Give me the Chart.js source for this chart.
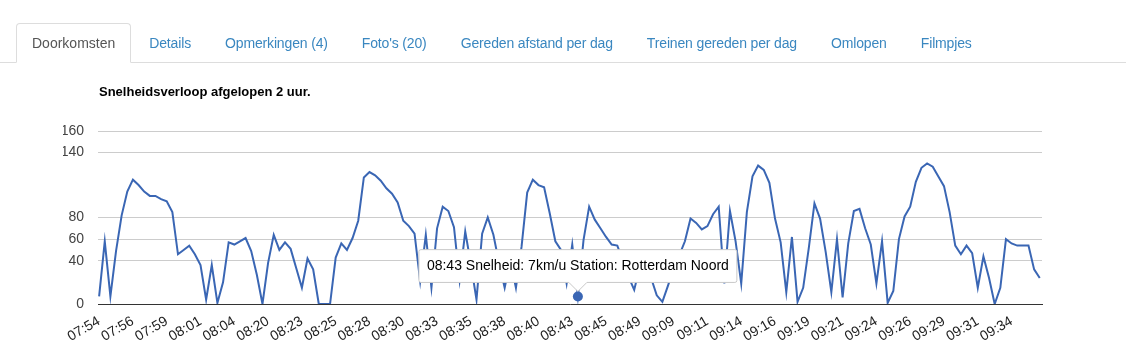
<!DOCTYPE html>
<html>
<head>
<meta charset="utf-8">
<title>Doorkomsten</title>
<script src="https://cdn.jsdelivr.net/npm/chart.js@4/dist/chart.umd.min.js"></script>
<style>
body{margin:0;background:#fff;font-family:Arial,"Liberation Sans",sans-serif;}
.wrap{position:relative;width:1126px;height:350px;overflow:hidden;}
canvas{position:absolute;left:0;top:0;}
.tabs{position:absolute;left:0;top:23px;width:1126px;margin:0;padding:0 0 0 16px;list-style:none;display:flex;border-bottom:1px solid #ddd;box-sizing:border-box;}
.tabs li{margin:0 2px -1px 0;}
.tabs a{display:block;padding:9px 15px;line-height:20px;font-size:14px;letter-spacing:-0.15px;color:#3a87c0;text-decoration:none;border:1px solid transparent;border-radius:4px 4px 0 0;}
.tabs li.active a{color:#555;background:#fff;border-color:#ddd #ddd transparent;letter-spacing:0;}
.titel{position:absolute;left:99px;top:84px;font:bold 13px Arial,"Liberation Sans",sans-serif;color:#000;}
</style>
</head>
<body>
<div class="wrap">
<canvas id="grafiek" width="1126" height="350"></canvas>
<ul class="tabs">
<li class="active"><a href="#">Doorkomsten</a></li>
<li><a href="#">Details</a></li>
<li><a href="#">Opmerkingen (4)</a></li>
<li><a href="#">Foto's (20)</a></li>
<li><a href="#">Gereden afstand per dag</a></li>
<li><a href="#">Treinen gereden per dag</a></li>
<li><a href="#">Omlopen</a></li>
<li><a href="#">Filmpjes</a></li>
</ul>
<div class="titel">Snelheidsverloop afgelopen 2 uur.</div>
</div>

<script>

/* tijden onder de x-as, om de 6 metingen */

const tijden=["07:54","07:56","07:59","08:01","08:04","08:20","08:23","08:25","08:28","08:30",
"08:33","08:35","08:38","08:40","08:43","08:45","08:49","09:09","09:11","09:14",
"09:16","09:19","09:21","09:24","09:26","09:29","09:31","09:34"]

const stap=6

/* snelheid in km/u per meting */

const snelheid=[
7,58,7,49,82,104,115,110,104,100,
100,97,95,85,46,50,54,46,36,4,
36,1,20,57,55,58,61,49,27,0,
38,64,50,57,51,33,15,42,32,0,
0,0,43,56,50,61,77,117,122,119,
114,107,102,94,77,72,65,21,64,15,
70,90,86,71,22,67,37,4,65,80,
64,38,15,40,15,53,103,115,110,108,
84,58,50,19,55,7,59,90,78,70,
62,55,54,40,25,13,35,40,24,8,
2,17,33,45,58,79,75,69,72,83,
90,19,86,58,19,85,118,128,124,112,
79,57,11,62,2,15,52,93,79,48,
11,60,6,56,86,88,70,55,19,58,
1,12,60,81,90,113,126,130,127,118,
109,85,54,46,54,47,15,44,24,0,
15,60,56,54,54,54,32,24
]

const yTicks=[0,40,60,80,140,160]

/* meting met tooltip */

const tipIndex=85
const tipTijd="08:43"
const tipStation="Rotterdam Noord"

const blauw="#3a66b4"

const punten=snelheid.map((v,i)=>({x:i,y:v}))

const ctx=document.getElementById("grafiek")

const chart=new Chart(ctx,{

type:"line",

data:{
datasets:[{
data:punten,
borderColor:blauw,
borderWidth:2,
pointRadius:0,
pointHoverRadius:5,
pointHoverBackgroundColor:blauw,
pointHoverBorderWidth:0,
tension:0
}]
},

options:{

responsive:false,
animation:false,

layout:{padding:{left:63,right:84,top:131,bottom:0}},

plugins:{
legend:{display:false},
tooltip:{
backgroundColor:"#fff",
borderColor:"#c8c8c8",
borderWidth:1,
cornerRadius:2,
displayColors:false,
bodyColor:"#000",
bodyFont:{family:"Arial",size:14},
padding:8,
caretSize:9,
caretPadding:5,
yAlign:"bottom",
xAlign:"center",
callbacks:{
title:()=>"",
label:(c)=>tipTijd+" Snelheid: "+c.parsed.y+"km/u Station: "+tipStation
}
}
},

scales:{
x:{
type:"linear",
min:-0.2,
max:snelheid.length-1+0.4,
afterBuildTicks:(s)=>{s.ticks=tijden.map((t,i)=>({value:i*stap}))},
afterFit:(s)=>{s.height=46},
grid:{display:false,drawTicks:false},
border:{color:"#333",width:1},
ticks:{
autoSkip:false,
minRotation:30,
maxRotation:30,
padding:9,
color:"#222",
font:{family:"Arial",size:14},
callback:(v)=>tijden[v/stap]
}
},
y:{
min:0,
max:160,
afterBuildTicks:(s)=>{s.ticks=yTicks.map(v=>({value:v}))},
afterFit:(s)=>{s.width=35},
grid:{color:"#ccc",drawTicks:false},
border:{display:false},
ticks:{padding:14,color:"#444",font:{family:"Arial",size:14}}
}
}

}

})

/* tooltip vast open op de gekozen meting */

const el=chart.getDatasetMeta(0).data[tipIndex]

chart.setActiveElements([{datasetIndex:0,index:tipIndex}])
chart.tooltip.setActiveElements([{datasetIndex:0,index:tipIndex}],{x:el.x,y:el.y})
chart.update()

</script>
</body>
</html>
